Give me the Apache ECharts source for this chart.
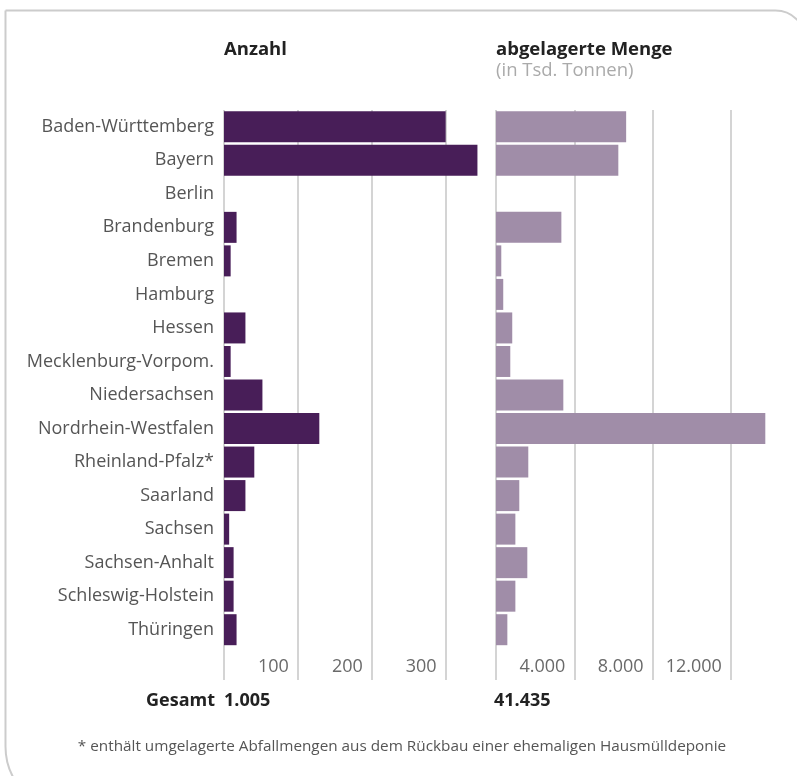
<!DOCTYPE html>
<html>
<head>
<meta charset="utf-8">
<script src="https://cdn.jsdelivr.net/npm/echarts@6/dist/echarts.min.js"></script>
<style>
html,body{margin:0;padding:0;background:#fff;}
#chart{width:797px;height:776px;}
</style>
</head>
<body>
<div id="chart"></div>
<script>
// ---- data ----
const categories = ['Baden-Württemberg','Bayern','Berlin','Brandenburg','Bremen','Hamburg','Hessen','Mecklenburg-Vorpom.','Niedersachsen','Nordrhein-Westfalen','Rheinland-Pfalz*','Saarland','Sachsen','Sachsen-Anhalt','Schleswig-Holstein','Thüringen'];
const anzahl = [300, 343, 0, 17, 9, 0, 29, 9, 52, 129, 41, 29, 7, 13, 13, 17];
const menge = [6650, 6250, 0, 3340, 270, 370, 830, 730, 3440, 13760, 1650, 1190, 990, 1600, 990, 580];
const titleLeft = 'Anzahl';
const titleRight = 'abgelagerte Menge';
const subtitleRight = '(in Tsd. Tonnen)';
const totalLabel = 'Gesamt';
const totals = ['1.005', '41.435'];
const footnote = '* enthält umgelagerte Abfallmengen aus dem Rückbau einer ehemaligen Hausmülldeponie';

// ---- chart ----
const FONT = 'Open Sans';
const fmt = v => String(v).replace(/\B(?=(\d{3})+(?!\d))/g, '.');
const yData = categories.concat(['']);
const gridTop = 110, gridH = 570;

const xAxisCommon = {
  type: 'value',
  axisLine: {show: false},
  axisTick: {show: false},
  splitLine: {show: true, showMinLine: true, showMaxLine: false, lineStyle: {color: '#c6c6c6', width: 1.5}},
  axisLabel: {
    inside: true, margin: 4, align: 'right', padding: [0, 9, 0, 0],
    color: '#6a6a6a', fontSize: 18, fontFamily: FONT, fontWeight: 'normal',
    showMinLabel: false, showMaxLabel: false, formatter: fmt
  }
};

const chart = echarts.init(document.getElementById('chart'), null, {renderer: 'canvas'});
chart.setOption({
  animation: false,
  backgroundColor: '#fff',
  grid: [
    {left: 224, top: gridTop, width: 266, height: gridH},
    {left: 496, top: gridTop, width: 274, height: gridH}
  ],
  xAxis: [
    Object.assign({}, xAxisCommon, {gridIndex: 0, min: 0, max: 360, interval: 100}),
    Object.assign({}, xAxisCommon, {gridIndex: 1, min: 0, max: 14000, interval: 4000})
  ],
  yAxis: [
    {type: 'category', gridIndex: 0, inverse: true, data: yData,
     axisLine: {show: false}, axisTick: {show: false}, splitLine: {show: false},
     axisLabel: {margin: 10, color: '#555', fontSize: 18, fontFamily: FONT, fontWeight: 'normal'}},
    {type: 'category', gridIndex: 1, inverse: true, data: yData,
     axisLine: {show: false}, axisTick: {show: false}, splitLine: {show: false},
     axisLabel: {show: false}}
  ],
  series: [
    {type: 'bar', xAxisIndex: 0, yAxisIndex: 0, data: anzahl, barWidth: 31,
     itemStyle: {color: '#481e58'}},
    {type: 'bar', xAxisIndex: 1, yAxisIndex: 1, data: menge, barWidth: 31,
     itemStyle: {color: '#a08da8'}}
  ],
  graphic: [
    {type: 'rect', silent: true, z: -10,
     shape: {x: 5.5, y: 10.5, width: 800, height: 800, r: [0, 30, 30, 64]},
     style: {fill: 'none', stroke: '#cccccc', lineWidth: 2}},
    {type: 'text', style: {text: titleLeft, x: 224, y: 50, textVerticalAlign: 'middle', textAlign: 'left',
      font: 'bold 18.5px "Open Sans"', fill: '#222'}},
    {type: 'text', style: {text: titleRight, x: 496, y: 50, textVerticalAlign: 'middle', textAlign: 'left',
      font: 'bold 18.5px "Open Sans"', fill: '#222'}},
    {type: 'text', style: {text: subtitleRight, x: 496, y: 71, textVerticalAlign: 'middle', textAlign: 'left',
      font: 'normal 18.5px "Open Sans"', fill: '#aaa'}},
    {type: 'text', style: {text: totalLabel, x: 215, y: 701, textVerticalAlign: 'middle', textAlign: 'right',
      font: 'bold 18px "Open Sans"', fill: '#222'}},
    {type: 'text', style: {text: totals[0], x: 224, y: 701, textVerticalAlign: 'middle', textAlign: 'left',
      font: 'bold 18px "Open Sans"', fill: '#222'}},
    {type: 'text', style: {text: totals[1], x: 494, y: 701, textVerticalAlign: 'middle', textAlign: 'left',
      font: 'bold 18px "Open Sans"', fill: '#222'}},
    {type: 'text', style: {text: footnote, x: 402, y: 747, textVerticalAlign: 'middle', textAlign: 'center',
      font: 'normal 15.3px "Open Sans"', fill: '#555'}}
  ]
});
</script>
</body>
</html>
